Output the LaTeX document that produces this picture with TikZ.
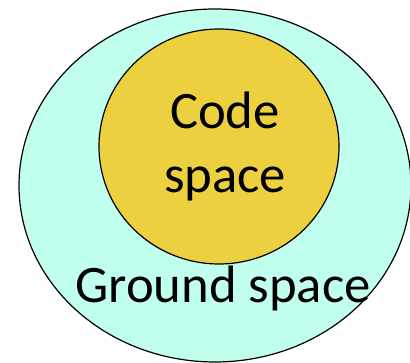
\documentclass[tikz,border=0pt]{standalone}
\usepackage{fontspec}
\setmainfont{Carlito}
\definecolor{groundfill}{RGB}{192,255,238}
\definecolor{codefill}{RGB}{236,208,64}
\tikzset{
  space/.style={draw=black, line width=0.9pt},
  label/.style={font=\fontsize{39.5}{48}\selectfont, align=center, inner sep=0pt}
}

\begin{document}
\begin{tikzpicture}[x=0.75pt,y=0.75pt]
  \useasboundingbox (0,0) rectangle (410,363);
  % outer and inner regions
  \draw[space, fill=groundfill] (215,177.5) ellipse [x radius=196, y radius=176.5];
  \draw[space, fill=codefill] (219,216.5) ellipse [x radius=120, y radius=117.5];

  \node[label, anchor=base] (code) at (225,170) {Code\\space};
  \node[label, anchor=base] (ground) at (223,60) {Ground space};
\end{tikzpicture}
\end{document}
